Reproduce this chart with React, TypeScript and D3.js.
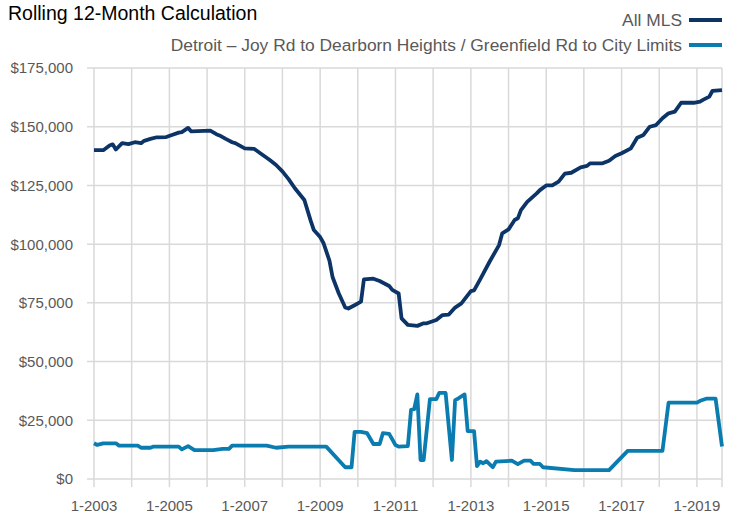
import * as d3 from "d3";

// rolling 12-month median sale price, monthly points where the line changes
const mlsDates = [
  "2003-01", "2003-04", "2003-06", "2003-07", "2003-08", "2003-10", "2003-12", "2004-02", "2004-04", "2004-05",
  "2004-07", "2004-09", "2004-12", "2005-02", "2005-04", "2005-05", "2005-07", "2005-08", "2006-02", "2006-04",
  "2006-05", "2006-07", "2006-09", "2006-10", "2007-01", "2007-04", "2007-06", "2007-09", "2007-11", "2008-01",
  "2008-03", "2008-05", "2008-08", "2008-10", "2008-11", "2009-01", "2009-02", "2009-04", "2009-05", "2009-07",
  "2009-09", "2009-10", "2009-12", "2010-02", "2010-03", "2010-06", "2010-08", "2010-11", "2010-12", "2011-02",
  "2011-03", "2011-05", "2011-08", "2011-10", "2011-11", "2012-02", "2012-04", "2012-06", "2012-08", "2012-10",
  "2013-01", "2013-02", "2013-04", "2013-07", "2013-10", "2013-11", "2014-01", "2014-03", "2014-04", "2014-05",
  "2014-07", "2014-10", "2014-11", "2015-01", "2015-03", "2015-05", "2015-07", "2015-09", "2015-12", "2016-02",
  "2016-03", "2016-07", "2016-09", "2016-11", "2017-01", "2017-04", "2017-06", "2017-08", "2017-10", "2017-12",
  "2018-02", "2018-04", "2018-06", "2018-08", "2018-12", "2019-02", "2019-03", "2019-05", "2019-06", "2019-09",
];
const mlsValues = [
  140000, 140000, 142000, 142500, 140300, 143000, 142600, 143400, 143000, 144000,
  144800, 145500, 145600, 146600, 147500, 147700, 149500, 148000, 148300, 146800,
  146300, 144800, 143400, 143000, 140800, 140600, 138700, 135800, 133700, 131000,
  127700, 123800, 118800, 110000, 106000, 103000, 100600, 93000, 86000, 79000,
  73000, 72600, 74000, 75500, 85000, 85300, 84300, 82200, 80500, 79000,
  68400, 65600, 65200, 66300, 66300, 67700, 69800, 70000, 73000, 74800,
  80000, 80300, 85000, 92500, 99600, 104600, 106300, 110300, 111000, 114500,
  118000, 121600, 123000, 125000, 125000, 126600, 130000, 130400, 132700, 133300,
  134400, 134400, 135500, 137500, 138700, 140800, 145300, 146500, 150000, 150700,
  153600, 155700, 156400, 160200, 160200, 160700, 161400, 162800, 165300, 165600,
];

const detDates = [
  "2003-01", "2003-02", "2003-04", "2003-08", "2003-09", "2004-03", "2004-04", "2004-07", "2004-08", "2005-04",
  "2005-05", "2005-07", "2005-09", "2006-03", "2006-06", "2006-08", "2006-09", "2007-08", "2007-11", "2008-03",
  "2009-03", "2009-09", "2009-11", "2009-12", "2010-02", "2010-04", "2010-06", "2010-08", "2010-09", "2010-11",
  "2011-01", "2011-02", "2011-05", "2011-06", "2011-07", "2011-08", "2011-09", "2011-10", "2011-12", "2012-02",
  "2012-03", "2012-05", "2012-07", "2012-08", "2012-09", "2012-11", "2012-12", "2013-02", "2013-03", "2013-04",
  "2013-05", "2013-06", "2013-08", "2013-09", "2014-02", "2014-04", "2014-06", "2014-08", "2014-09", "2014-11",
  "2014-12", "2015-10", "2016-09", "2017-03", "2018-02", "2018-04", "2019-01", "2019-02", "2019-04", "2019-07",
  "2019-09",
];
const detValues = [
  15200, 14500, 15200, 15200, 14200, 14200, 13300, 13300, 13800, 13800,
  12600, 14000, 12300, 12300, 12800, 12800, 14200, 14200, 13300, 13800,
  13800, 5000, 5000, 20100, 20100, 19500, 14900, 14900, 19500, 19200,
  14500, 13800, 14000, 29400, 29700, 36000, 8100, 8100, 34000, 34000,
  36700, 36700, 8100, 33600, 34300, 36000, 20400, 20400, 5500, 7400,
  6700, 7600, 5000, 7400, 7800, 6300, 7800, 7800, 6400, 6400,
  5000, 3800, 3800, 12000, 12000, 32500, 32500, 33300, 34200, 34200,
  13800,
];

const yTicks = [0, 25000, 50000, 75000, 100000, 125000, 150000, 175000];
const xLabelYears = [2003, 2005, 2007, 2009, 2011, 2013, 2015, 2017, 2019];

const seriesNames = ["All MLS", "Detroit – Joy Rd to Dearborn Heights / Greenfield Rd to City Limits"];
const seriesColors = ["#0c3467", "#0a7cb0"];
const title = "Rolling 12-Month Calculation";

const font = "'Liberation Sans', Arial, sans-serif";

export default function App() {
  const parse = d3.timeParse("%Y-%m");
  const mls = mlsDates.map((d, i) => ({ date: parse(d) as Date, value: mlsValues[i] }));
  const det = detDates.map((d, i) => ({ date: parse(d) as Date, value: detValues[i] }));

  const left = 94, right = 722, top = 68, bottom = 479;
  const x = d3.scaleTime().domain([parse("2003-01") as Date, parse("2019-09") as Date]).range([left, right]);
  const y = d3.scaleLinear().domain([0, 175000]).range([bottom, top]);

  const line = d3
    .line<{ date: Date; value: number }>()
    .x((d) => x(d.date))
    .y((d) => y(d.value));

  const yearTicks = d3.range(2003, 2020).map((yr) => new Date(yr, 0, 1));
  const fmt = (v: number) => "$" + d3.format(",")(v);

  return (
    <svg width={738} height={515} style={{ position: "absolute", left: 0, top: 0, background: "#fff" }}>
      {/* grid */}
      <g stroke="#d9d9d9" strokeWidth={1.5}>
        {yTicks.map((t) => (
          <line key={"h" + t} x1={left - 7} x2={right} y1={y(t)} y2={y(t)} />
        ))}
        {yearTicks.map((d) => (
          <line key={"v" + d.getFullYear()} x1={x(d)} x2={x(d)} y1={top} y2={bottom + 8} />
        ))}
        <line x1={right} x2={right} y1={top} y2={bottom + 8} />
      </g>

      {/* axis labels */}
      <g fontFamily={font} fontSize={15} fill="#595959">
        {yTicks.map((t) => (
          <text key={"yl" + t} x={73} y={y(t)} dy="0.36em" textAnchor="end">
            {fmt(t)}
          </text>
        ))}
        {xLabelYears.map((yr) => (
          <text key={"xl" + yr} x={x(new Date(yr, 0, 1))} y={511} textAnchor="middle">
            {"1-" + yr}
          </text>
        ))}
      </g>

      {/* series */}
      <path d={line(det) || ""} fill="none" stroke={seriesColors[1]} strokeWidth={3.8} strokeLinejoin="round" />
      <path d={line(mls) || ""} fill="none" stroke={seriesColors[0]} strokeWidth={3.8} strokeLinejoin="round" />

      {/* title */}
      <text x={8} y={20} fontFamily={font} fontSize={19.5} fill="#000">
        {title}
      </text>

      {/* legend */}
      <g fontFamily={font} fontSize={17.4} fill="#595959">
        {seriesNames.map((n, i) => (
          <g key={n}>
            <text x={682} y={26 + i * 25} textAnchor="end">
              {n}
            </text>
            <line x1={689} x2={722} y1={20 + i * 25} y2={20 + i * 25} stroke={seriesColors[i]} strokeWidth={4} />
          </g>
        ))}
      </g>
    </svg>
  );
}
